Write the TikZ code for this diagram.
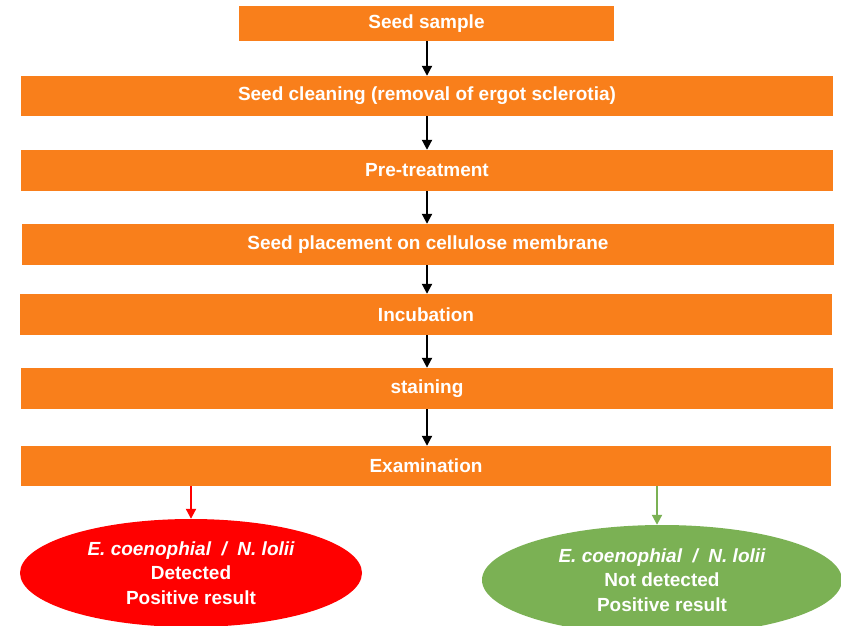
\documentclass[tikz,border=0pt]{standalone}
\usepackage{fontspec}
\setmainfont{Liberation Sans}
\usetikzlibrary{arrows.meta,shapes.geometric}

\definecolor{stepor}{HTML}{F97F1B}
\definecolor{detred}{HTML}{FF0000}
\definecolor{notgreen}{HTML}{7BB154}

\tikzset{
    stepbox/.style={fill=stepor, text=white, inner sep=0pt, minimum width=812pt, minimum height=41pt, font=\fontsize{19}{22}\selectfont\bfseries},
    result/.style={ellipse, text=white, inner sep=0pt, align=center, font=\fontsize{19}{24.5}\selectfont\bfseries},
    flow/.style={-{Triangle[length=10pt,width=10pt]}, line width=2pt}
}

\begin{document}
\begin{tikzpicture}[x=1pt,y=-1pt]
                \useasboundingbox (0,0) rectangle (841,625);
                \node[stepbox, minimum width=375pt, minimum height=35pt] (sample) at (426.5,23.5) {Seed sample};
                \node[stepbox, minimum height=40pt] (cleaning) at (427,96) {Seed cleaning (removal of ergot sclerotia)};
                \node[stepbox] (pretreat) at (427,170.5) {Pre-treatment};
                \node[stepbox] (placement) at (428,244.5) {Seed placement on cellulose membrane};
                \node[stepbox] (incub) at (426,314.5) {Incubation};
                \node[stepbox] (stain) at (427,388.5) {staining};
                \node[stepbox, minimum width=810pt, minimum height=40pt] (exam) at (426,466) {Examination};
                % results
                \node[result, fill=detred, minimum width=342pt, minimum height=108pt] (detected) at (191,573)
                    {\itshape E. coenophial~~/~~N. lolii\\ Detected\\ Positive result};
                \node[result, fill=notgreen, minimum width=360pt, minimum height=110pt] (notdet) at (662,580)
                    {\itshape E. coenophial~~/~~N. lolii\\ Not detected\\ Positive result};
                % arrows
                \draw[flow] (sample.south -| 427,0) -- (cleaning.north -| 427,0);
                \draw[flow] (cleaning.south -| 427,0) -- (pretreat.north -| 427,0);
                \draw[flow] (pretreat.south -| 427,0) -- (placement.north -| 427,0);
                \draw[flow] (placement.south -| 427,0) -- (incub.north -| 427,0);
                \draw[flow] (incub.south -| 427,0) -- (stain.north -| 427,0);
                \draw[flow] (stain.south -| 427,0) -- (exam.north -| 427,0);
                \draw[flow, detred] (exam.south -| detected.north) -- (detected.north);
                \draw[flow, notgreen] (exam.south -| 657,0) -- (notdet.north -| 657,0);
            \end{tikzpicture}
\end{document}
